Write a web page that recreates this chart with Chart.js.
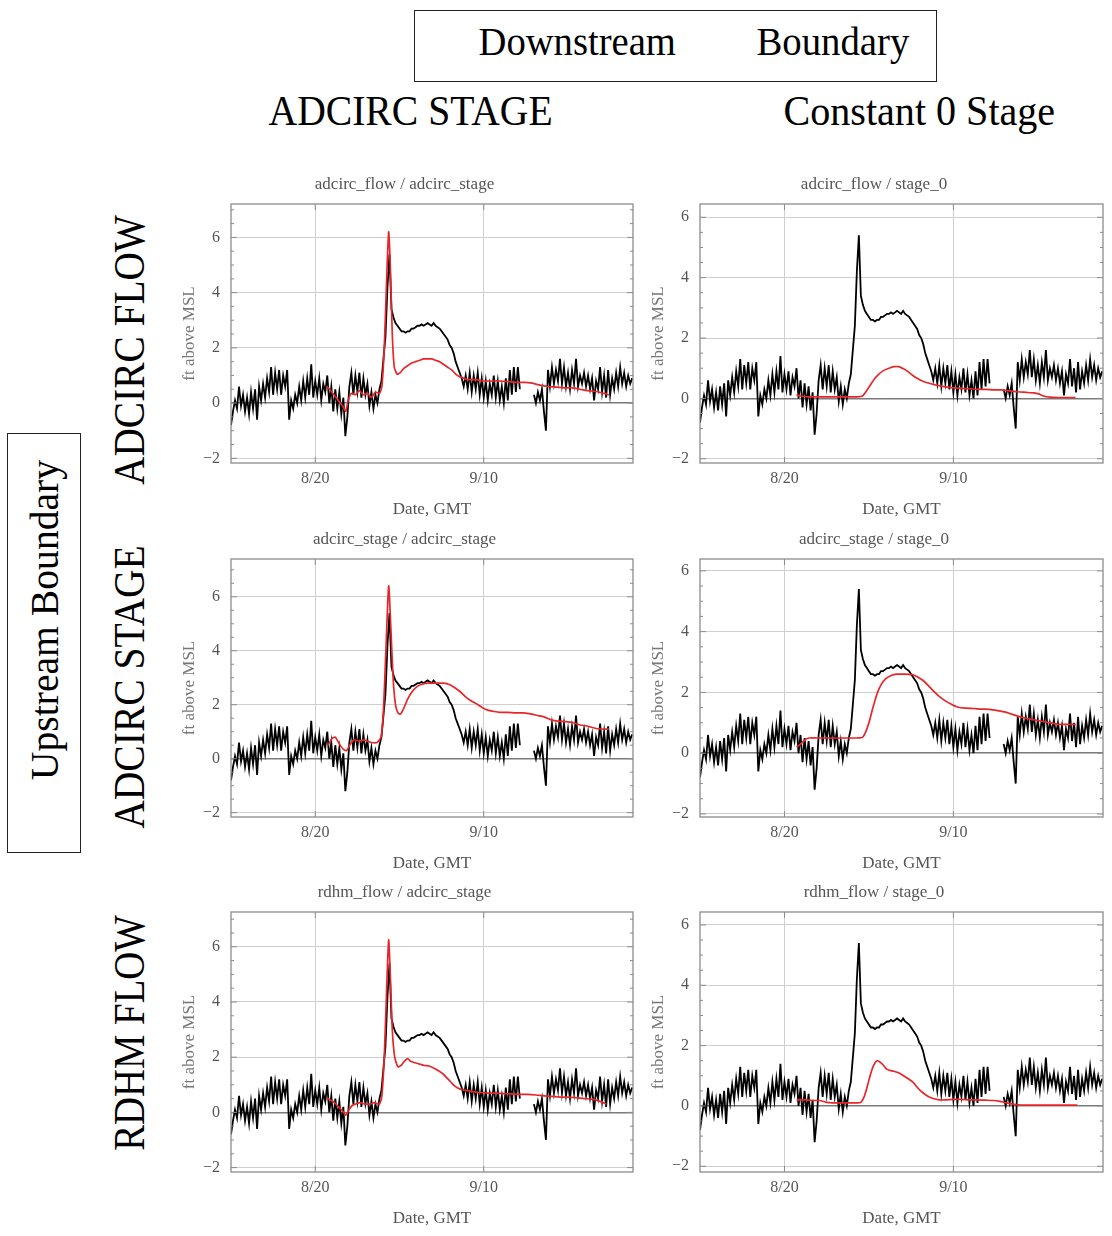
<!DOCTYPE html>
<html><head><meta charset="utf-8">
<script src="https://cdn.jsdelivr.net/npm/chart.js@4.4.0/dist/chart.umd.min.js"></script>
<style>
html,body{margin:0;padding:0;background:#fff;}
body{width:1112px;height:1236px;position:relative;overflow:hidden;font-family:'Liberation Serif','Times New Roman',serif;}
canvas{position:absolute;}
.lbl{position:absolute;white-space:nowrap;color:#000;font-family:'Liberation Serif','Times New Roman',serif;line-height:1;}
.box{position:absolute;border:1.5px solid #222;box-sizing:border-box;}
</style></head><body>
<script>
// ---------------- DATA ----------------
const xTickValues = [20, 41];           // day-of-August numbering (Sep 10 = 41)
const xTickLabels = ['8/20', '9/10'];
const yTickValues = [-2, 0, 2, 4, 6];

const panelTitles = [
  'adcirc_flow / adcirc_stage', 'adcirc_flow / stage_0',
  'adcirc_stage / adcirc_stage', 'adcirc_stage / stage_0',
  'rdhm_flow / adcirc_stage', 'rdhm_flow / stage_0'
];

// observed stage (black), [day, ft above MSL]
const observed = [
[9.5,-0.8],[9.75,-0.3],[10,0.1],[10.25,-0.2],[10.5,0.6],[10.75,-0.1],[11,0.3],[11.25,-0.3],[11.5,0.2],[11.75,-0.4],[12,0.4],
[12.25,-0.2],[12.5,0.5],[12.75,-0.6],[13,0.6],[13.25,0.1],[13.5,0.7],[13.75,0.2],[14,0.9],
[14.25,0.4],[14.5,1.3],[14.75,0.3],[15,1.1],[15.25,0.5],[15.5,1.2],[15.75,0.3],[16,1.0],[16.25,0.6],[16.5,1.2],
[16.75,-0.6],[17,0.1],[17.25,-0.2],[17.5,0.3],[17.75,0.0],
[18,0.6],[18.25,0.1],[18.5,0.8],[18.75,0.2],[19,0.9],[19.25,0.3],[19.5,1.4],[19.75,0.2],[20,0.8],
[20.25,0.3],[20.5,0.9],[20.75,0.1],[21,0.7],[21.25,0.4],[21.5,1.0],[21.75,0.0],[22,0.6],
[22.25,-0.3],[22.5,0.5],[22.75,-0.2],[23,0.4],[23.25,-0.4],[23.5,0.2],[23.75,-1.2],[24,-0.5],
[24.25,0.6],[24.5,1.1],[24.75,0.3],[25,1.0],[25.25,0.4],[25.5,1.1],[25.75,0.2],[26,0.9],[26.25,0.3],[26.5,0.7],
[26.75,-0.1],[27,0.4],[27.25,-0.2],[27.5,0.3],[27.75,0.0],[28,0.5],
[28.25,0.8],[28.5,1.6],[28.75,2.4],[29,4.2],[29.25,5.4],[29.5,3.4],[29.75,3.1],
[30,2.9],[30.25,2.8],[30.5,2.7],[30.75,2.6],[31,2.6],[31.25,2.55],[31.5,2.6],[31.75,2.6],[32,2.7],[32.25,2.7],[32.5,2.75],[32.75,2.8],[33,2.8],
[33.25,2.85],[33.5,2.8],[33.75,2.85],[34,2.9],[34.25,2.85],[34.5,2.8],[34.75,2.9],[35,2.8],[35.25,2.75],[35.5,2.7],
[35.75,2.6],[36,2.5],[36.25,2.4],[36.5,2.3],[36.75,2.1],[37,2.0],[37.25,1.8],[37.5,1.5],[37.75,1.3],[38,1.1],[38.25,0.9],[38.5,0.6],
[38.75,1.0],[39,0.5],[39.25,1.1],[39.5,0.4],[39.75,1.0],[40,0.5],[40.25,1.1],[40.5,0.3],[40.75,0.9],[41,0.2],[41.25,0.8],[41.5,0.1],
[41.75,0.7],[42,0.3],[42.25,1.0],[42.5,0.2],[42.75,0.8],[43,0.1],[43.25,0.6],[43.5,0.0],[43.75,0.9],[44,0.1],[44.25,1.2],[44.5,0.3],
[44.75,1.3],[45,0.4],[45.25,1.3],[45.5,0.5],
[45.75,null],[46,null],[46.25,null],[46.5,null],[46.75,null],[47,null],
[47.25,0.3],[47.5,0.0],[47.75,0.4],[48,0.1],[48.25,0.5],[48.5,-0.3],[48.75,-1.0],
[49,1.2],[49.25,0.6],[49.5,1.3],[49.75,0.7],[50,1.2],[50.25,0.8],[50.5,1.6],[50.75,0.7],[51,1.3],[51.25,0.6],[51.5,1.1],[51.75,0.5],
[52,1.2],[52.25,0.7],[52.5,1.6],[52.75,0.6],[53,1.0],[53.25,0.7],[53.5,1.1],[53.75,0.6],[54,1.0],[54.25,0.5],[54.5,0.9],[54.75,0.1],
[55,0.8],[55.25,0.5],[55.5,1.3],[55.75,0.4],[56,1.0],[56.25,0.2],[56.5,1.2],[56.75,0.3],[57,0.9],[57.25,0.5],[57.5,1.1],[57.75,0.6],
[58,1.3],[58.25,0.7],[58.5,1.1],[58.75,0.6],[59,1.0],[59.25,0.7],[59.5,0.9]
];

// modelled stage (red) per panel, [day, ft above MSL]
const redFlowAdcirc = [
[21.4,0.6],[21.8,0.5],[22.2,0.35],[22.6,0.2],[23,0.05],[23.4,-0.1],[23.8,-0.3],[24.1,0.1],[24.5,0.35],[25,0.3],[25.5,0.45],[26,0.3],
[26.5,0.35],[27,0.2],[27.5,0.4],[28,0.35],[28.3,0.6],[28.6,2.0],[28.9,4.5],[29.15,6.2],[29.35,5.0],[29.6,2.5],[29.85,1.3],[30.2,1.05],
[30.6,1.1],[31,1.25],[31.5,1.35],[32,1.45],[32.5,1.5],[33,1.55],[33.5,1.6],[34,1.6],[34.5,1.6],[35,1.55],[35.5,1.5],[36,1.4],[36.5,1.3],
[37,1.2],[37.5,1.05],[38,0.95],[38.5,0.9],[39,0.85],[40,0.85],[41,0.8],[42,0.8],[43,0.8],[44,0.78],[45,0.75],[46,0.75],[47,0.72],
[48,0.65],[49,0.6],[50,0.58],[51,0.55],[52,0.55],[53,0.5],[54,0.45],[55,0.42],[56,0.35],[56.6,0.3]
];
const redFlowZero = [
[21.5,0.12],[22,0.08],[23,0.05],[24,0.05],[25,0.05],[26,0.05],[27,0.05],[28,0.05],[29,0.05],[29.7,0.08],[30.2,0.25],[30.7,0.45],
[31.2,0.65],[31.7,0.8],[32.3,0.92],[33,1.0],[33.6,1.05],[34.2,1.05],[34.8,0.98],[35.4,0.88],[36,0.75],[36.6,0.65],[37.2,0.57],[38,0.5],
[39,0.43],[40,0.38],[41,0.35],[42,0.33],[43,0.32],[44,0.3],[45,0.3],[46,0.28],[47,0.28],[48,0.25],[49,0.22],[50,0.2],[51,0.18],
[51.6,0.15],[52.2,0.08],[53,0.04],[54,0.03],[55,0.03],[56.2,0.03]
];
const redStageAdcirc = [
[21.6,0.5],[22.1,0.75],[22.5,0.8],[23,0.55],[23.5,0.35],[23.9,0.3],[24.4,0.55],[24.8,0.7],[25.5,0.65],[26,0.7],[26.5,0.65],[27,0.6],
[27.7,0.6],[28.2,0.8],[28.5,1.8],[28.8,4.0],[29.15,6.4],[29.4,5.0],[29.7,3.0],[30.0,2.0],[30.3,1.7],[30.6,1.65],[31,1.85],[31.5,2.2],
[32,2.45],[32.6,2.65],[33.2,2.75],[34,2.8],[35,2.8],[36,2.8],[36.7,2.75],[37.3,2.65],[38,2.5],[38.7,2.3],[39.4,2.15],[40,2.05],
[40.8,1.9],[41.5,1.8],[42.3,1.75],[43,1.72],[44,1.72],[45,1.7],[46,1.7],[47,1.65],[47.7,1.6],[48.5,1.55],[49.3,1.45],[50,1.4],
[51,1.38],[52,1.35],[53,1.25],[54,1.2],[55,1.12],[56,1.1],[56.6,1.1]
];
const redStageZero = [
[21.5,0.2],[22,0.3],[22.6,0.45],[23.1,0.5],[24,0.5],[25,0.5],[26,0.5],[27,0.5],[28,0.5],[29,0.5],[29.7,0.52],[30.1,0.7],[30.5,1.0],
[31,1.5],[31.5,1.95],[32,2.25],[32.6,2.45],[33.2,2.55],[34,2.6],[35,2.6],[36,2.58],[36.6,2.5],[37.2,2.4],[37.8,2.25],[38.5,2.05],
[39.2,1.88],[40,1.72],[40.8,1.6],[41.5,1.52],[42.5,1.48],[43.5,1.47],[44.5,1.45],[45.5,1.44],[46.5,1.4],[47.5,1.35],[48.3,1.28],
[49,1.22],[50,1.15],[51,1.1],[52,1.05],[53,1.0],[54,0.95],[55,0.95],[56.2,0.95]
];
const redRdhmAdcirc = [
[21.4,0.5],[21.9,0.45],[22.4,0.35],[22.9,0.2],[23.4,0.05],[23.8,-0.1],[24.2,0.1],[24.6,0.25],[25,0.3],[25.6,0.35],[26.2,0.3],[26.8,0.3],
[27.4,0.35],[28,0.3],[28.3,0.6],[28.6,2.0],[28.9,4.5],[29.15,6.25],[29.35,5.0],[29.6,3.0],[29.9,2.0],[30.3,1.65],[30.7,1.7],[31.1,1.85],
[31.5,1.95],[31.9,1.85],[32.4,1.8],[33,1.75],[33.6,1.7],[34.2,1.68],[34.8,1.6],[35.4,1.5],[35.9,1.4],[36.4,1.25],[36.9,1.1],[37.4,0.95],
[38,0.85],[38.8,0.8],[39.6,0.75],[40.5,0.72],[41.5,0.7],[42.5,0.7],[43.5,0.68],[44.5,0.67],[45.5,0.65],[46.5,0.65],[47.5,0.63],
[48.5,0.6],[49.5,0.58],[50.5,0.55],[51.5,0.55],[52.5,0.53],[53.5,0.5],[54.5,0.48],[55.5,0.4],[56.3,0.3]
];
const redRdhmZero = [
[21.5,0.2],[22.5,0.2],[23.5,0.18],[24.4,0.18],[25.2,0.12],[26,0.1],[27,0.1],[28,0.1],[29,0.1],[29.5,0.12],[29.9,0.3],[30.3,0.65],
[30.7,1.05],[31.1,1.35],[31.5,1.5],[31.9,1.45],[32.3,1.35],[32.7,1.22],[33.1,1.18],[33.6,1.15],[34.2,1.1],[34.8,1.0],[35.4,0.9],
[36,0.78],[36.5,0.62],[37,0.48],[37.5,0.38],[38,0.3],[38.6,0.24],[39.3,0.2],[40,0.2],[41,0.22],[42,0.22],[43,0.2],[44,0.2],[45,0.19],
[46,0.18],[46.8,0.15],[47.6,0.1],[48.4,0.06],[49,0.04],[50,0.03],[52,0.03],[54,0.03],[56.4,0.03]
];
const redSeries = [redFlowAdcirc, redFlowZero, redStageAdcirc, redStageZero, redRdhmAdcirc, redRdhmZero];

// ---------------- LAYOUT ----------------
const xRange = [9.5, 59.6];
const yRanges = [[-2.17,7.21],[-2.14,6.44],[-2.16,7.4],[-2.1,6.39],[-2.16,7.26],[-2.19,6.43]];
const plotRects = [ // left, top, right, bottom of plot area
  [231,204,633,463],[700,204,1103,463],
  [231,559,633,817],[700,559,1103,817],
  [231,912,633,1172],[700,912,1103,1172]
];
const AXW = 55, AXH = 57, TITLEH = 32, PADR = 8;
const FONT = "'Liberation Serif','Times New Roman',serif";

const toXY = arr => arr.map(p => ({x: p[0], y: p[1]}));
const fmtY = v => (v < 0 ? '\u2212' + Math.abs(v) : String(v));

const framePlugin = {
  id: 'frame',
  afterDatasetsDraw(chart) {
    const {ctx, chartArea: a, scales: {x, y}} = chart;
    ctx.save();
    ctx.strokeStyle = '#8c8c8c';
    ctx.lineWidth = 1.3;
    ctx.strokeRect(a.left, a.top, a.right - a.left, a.bottom - a.top);
    ctx.beginPath();
    ctx.lineWidth = 1;
    for (let k = -4; k <= 16; k++) {
      const v = k / 2;
      const py = y.getPixelForValue(v);
      if (py < a.top + 1 || py > a.bottom - 1) continue;
      const len = (k % 4 === 0) ? 6 : 3;
      ctx.moveTo(a.left, py); ctx.lineTo(a.left + len, py);
      ctx.moveTo(a.right, py); ctx.lineTo(a.right - len, py);
    }
    xTickValues.forEach(v => {
      const px = x.getPixelForValue(v);
      ctx.moveTo(px, a.bottom); ctx.lineTo(px, a.bottom - 6);
      ctx.moveTo(px, a.top); ctx.lineTo(px, a.top + 6);
    });
    ctx.stroke();
    ctx.restore();
  }
};

plotRects.forEach((r, i) => {
  const [L, T, R, B] = r;
  const cv = document.createElement('canvas');
  const w = (R - L) + AXW + PADR, h = (B - T) + TITLEH + AXH;
  cv.width = w; cv.height = h;
  cv.style.width = w + 'px'; cv.style.height = h + 'px';
  cv.style.left = (L - AXW) + 'px'; cv.style.top = (T - TITLEH) + 'px';
  document.body.appendChild(cv);
  new Chart(cv, {
    type: 'line',
    data: {
      datasets: [
        {data: toXY(redSeries[i]), borderColor: '#e8262a', borderWidth: 1.7, pointRadius: 0, tension: 0.2, fill: false},
        {data: toXY(observed), borderColor: '#000', borderWidth: 1.8, pointRadius: 0, spanGaps: false, tension: 0, fill: false}
      ]
    },
    options: {
      responsive: false, animation: false, devicePixelRatio: 1,
      layout: {padding: {top: 0, right: PADR, bottom: 0, left: 0}},
      plugins: {
        legend: {display: false}, tooltip: {enabled: false},
        title: {display: true, text: panelTitles[i], color: '#555',
                font: {family: FONT, size: 17, weight: 'normal', lineHeight: 1.2}, padding: {top: 2, bottom: 9.6}}
      },
      scales: {
        x: {
          type: 'linear', min: xRange[0], max: xRange[1],
          afterBuildTicks: s => { s.ticks = xTickValues.map(v => ({value: v})); },
          afterFit: s => { s.height = AXH; },
          ticks: {callback: v => xTickLabels[xTickValues.indexOf(v)], color: '#555',
                  font: {family: FONT, size: 16}, padding: 6, maxRotation: 0, autoSkip: false},
          grid: {color: '#cfcfcf', lineWidth: 1, drawTicks: false},
          border: {display: false},
          title: {display: true, text: 'Date, GMT', color: '#555',
                  font: {family: FONT, size: 17, lineHeight: 1.2}, padding: {top: 0, bottom: 0}}
        },
        y: {
          type: 'linear', min: yRanges[i][0], max: yRanges[i][1],
          afterBuildTicks: s => { s.ticks = yTickValues.map(v => ({value: v})); },
          afterFit: s => { s.width = AXW; },
          ticks: {callback: v => fmtY(v), color: '#555', font: {family: FONT, size: 16}, padding: 11},
          grid: {color: c => (c.tick && c.tick.value === 0) ? '#7a7a7a' : '#cfcfcf',
                 lineWidth: c => (c.tick && c.tick.value === 0) ? 1.5 : 1, drawTicks: false},
          border: {display: false},
          title: {display: true, text: 'ft above MSL', color: '#777',
                  font: {family: FONT, size: 17, lineHeight: 1.2}, padding: {top: 3, bottom: 0}}
        }
      }
    },
    plugins: [framePlugin]
  });
});

// ---------------- ANNOTATIONS ----------------
const boxes = [[414,10,523,72],[7,433,74,420]];
boxes.forEach(b => {
  const d = document.createElement('div');
  d.className = 'box';
  d.style.left = b[0] + 'px'; d.style.top = b[1] + 'px';
  d.style.width = b[2] + 'px'; d.style.height = b[3] + 'px';
  document.body.appendChild(d);
});
const labels = [
  {text: 'Downstream', cx: 577, cy: 42, len: 197, fs: 40, rot: false},
  {text: 'Boundary', cx: 833, cy: 42, len: 153, fs: 40, rot: false},
  {text: 'ADCIRC STAGE', cx: 410, cy: 111, len: 284, fs: 42, rot: false},
  {text: 'Constant 0 Stage', cx: 919, cy: 111, len: 272, fs: 42, rot: false},
  {text: 'ADCIRC FLOW', cx: 130, cy: 350, len: 270, fs: 44, rot: true},
  {text: 'ADCIRC STAGE', cx: 130, cy: 687, len: 284, fs: 44, rot: true},
  {text: 'RDHM FLOW', cx: 130, cy: 1033, len: 236, fs: 44, rot: true},
  {text: 'Upstream Boundary', cx: 44, cy: 620, len: 320, fs: 40, rot: true}
];
labels.forEach(s => {
  const el = document.createElement('div');
  el.className = 'lbl';
  el.textContent = s.text;
  el.style.fontSize = s.fs + 'px';
  document.body.appendChild(el);
  const w = el.offsetWidth, h = el.offsetHeight;
  const sx = s.len / w;
  el.style.left = (s.cx - w / 2) + 'px';
  el.style.top = (s.cy - h / 2) + 'px';
  el.style.transformOrigin = '50% 50%';
  el.style.transform = (s.rot ? 'rotate(-90deg) ' : '') + 'scaleX(' + sx.toFixed(4) + ')';
});
</script>
</body></html>
